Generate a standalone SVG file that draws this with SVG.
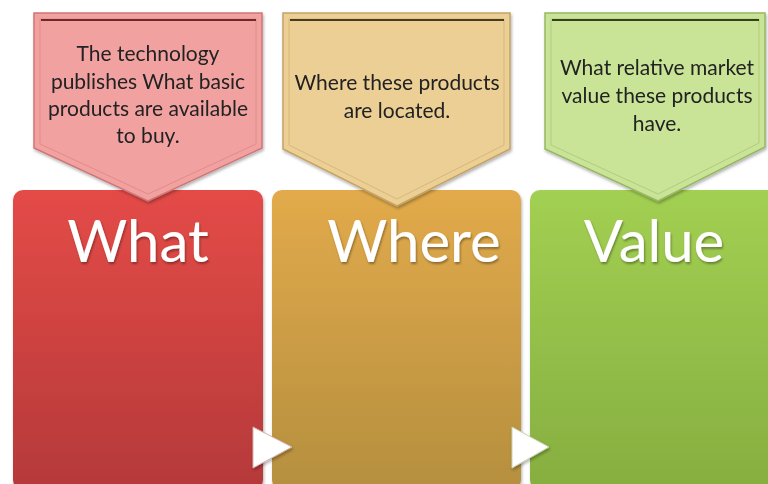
<svg xmlns="http://www.w3.org/2000/svg" width="768" height="484" viewBox="0 0 768 484">
  <defs>
    <linearGradient id="gRed" x1="0" y1="0" x2="0" y2="1">
      <stop offset="0" stop-color="#e44b47"/>
      <stop offset="1" stop-color="#b5393a"/>
    </linearGradient>
    <linearGradient id="gOrange" x1="0" y1="0" x2="0" y2="1">
      <stop offset="0" stop-color="#e2aa4b"/>
      <stop offset="1" stop-color="#b58f3f"/>
    </linearGradient>
    <linearGradient id="gGreen" x1="0" y1="0" x2="0" y2="1">
      <stop offset="0" stop-color="#a2d052"/>
      <stop offset="1" stop-color="#86ae40"/>
    </linearGradient>
    <filter id="shadow" x="-10%" y="-10%" width="120%" height="120%">
      <feDropShadow dx="1" dy="2" stdDeviation="1.5" flood-color="#000" flood-opacity="0.3"/>
    </filter>
    <filter id="textShadow" x="-10%" y="-10%" width="120%" height="130%">
      <feDropShadow dx="1" dy="2" stdDeviation="1" flood-color="#000" flood-opacity="0.35"/>
    </filter>
  </defs>
  <style>
    .title { font-family: Lato, "Open Sans", sans-serif; font-size: 58px; fill: #ffffff; text-anchor: middle; }
    .note { font-family: Lato, "Open Sans", sans-serif; font-size: 21px; fill: #222222; text-anchor: middle; }
    .arrow { fill: #ffffff; stroke-width: 1; }
  </style>
  <rect width="768" height="484" fill="#ffffff"/>

  <!-- Column boxes -->
  <g id="what-box" filter="url(#shadow)">
    <rect x="13" y="190" width="250" height="300" rx="10" fill="url(#gRed)"/>
    <text class="title" x="138" y="262" filter="url(#textShadow)">What</text>
  </g>
  <g id="where-box" filter="url(#shadow)">
    <rect x="272" y="190" width="249" height="300" rx="10" fill="url(#gOrange)"/>
    <text class="title" x="414" y="262" filter="url(#textShadow)">Where</text>
  </g>
  <g id="value-box" filter="url(#shadow)">
    <rect x="530" y="190" width="250" height="300" rx="10" fill="url(#gGreen)"/>
    <text class="title" x="654" y="262" filter="url(#textShadow)">Value</text>
  </g>

  <!-- Callouts -->
  <g id="what-note" filter="url(#shadow)">
    <polygon points="34,13 262,13 262,148 148,201 34,148" fill="#f2a1a1" stroke="#cf7676" stroke-width="1.5"/>
    <polygon points="40,19 256,19 256,144 148,194 40,144" fill="none" stroke="#e48a8a" stroke-width="1"/>
    <line x1="41" y1="20" x2="256" y2="20" stroke="#6a2a2a" stroke-width="2"/>
    <text class="note" x="148" y="61">The technology</text>
    <text class="note" x="148" y="89">publishes  What basic</text>
    <text class="note" x="148" y="116">products are available</text>
    <text class="note" x="148" y="143">to buy.</text>
  </g>
  <g id="where-note" filter="url(#shadow)">
    <polygon points="283,13 510,13 510,149 397,206 283,149" fill="#ebcf95" stroke="#c4a465" stroke-width="1.5"/>
    <polygon points="289,19 504,19 504,145 397,199 289,145" fill="none" stroke="#d8b878" stroke-width="1"/>
    <line x1="290" y1="20" x2="504" y2="20" stroke="#4a3a20" stroke-width="2"/>
    <text class="note" x="397" y="90">Where these products</text>
    <text class="note" x="397" y="118">are located.</text>
  </g>
  <g id="value-note" filter="url(#shadow)">
    <polygon points="545,13 765,13 765,147 658,201 545,149" fill="#c9e497" stroke="#98b664" stroke-width="1.5"/>
    <polygon points="551,19 759,19 759,143 658,194 551,145" fill="none" stroke="#b0cc7c" stroke-width="1"/>
    <line x1="552" y1="20" x2="759" y2="20" stroke="#34401e" stroke-width="2"/>
    <text class="note" x="657" y="75">What relative market</text>
    <text class="note" x="657" y="103">value these products</text>
    <text class="note" x="657" y="131">have.</text>
  </g>

  <!-- Flow arrows -->
  <g id="connectors" filter="url(#shadow)">
    <polygon class="arrow" points="253,427 292,447 253,468" stroke="#d8b0a8"/>
    <polygon class="arrow" points="512,427 549,447 512,468" stroke="#c8d4b0"/>
  </g>
</svg>
